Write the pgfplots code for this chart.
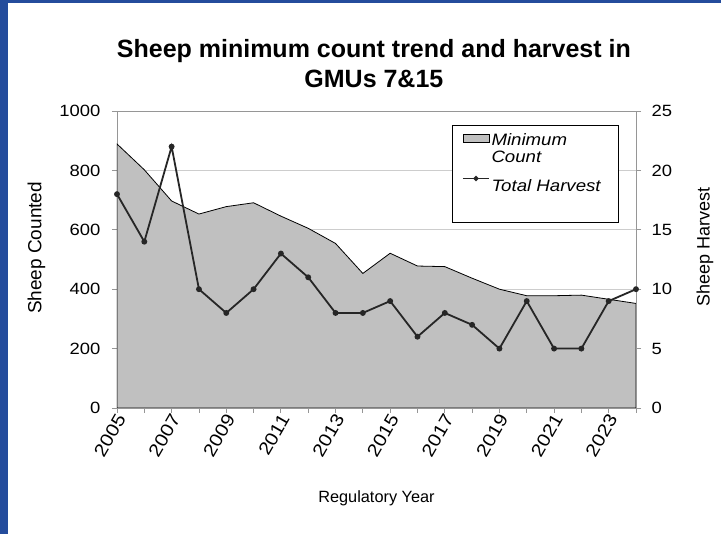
\documentclass[border=0pt]{standalone}
\usepackage{pgfplots}
\pgfplotsset{compat=1.18}
\usepackage{fontspec}
\setmainfont{Liberation Sans}
\newfontfamily\stretchfont{Liberation Sans}[FakeStretch=1.13]
\definecolor{areagray}{RGB}{192,192,192}
\definecolor{axgray}{RGB}{150,150,150}
\definecolor{gridgray}{RGB}{205,205,205}
\definecolor{frameblue}{RGB}{36,76,156}
\definecolor{linedark}{RGB}{38,38,38}
\newcommand{\rowstrut}{\rule[-7pt]{0pt}{23pt}}
\newcommand{\bigstrut}{\rule[-18pt]{0pt}{45pt}}
\begin{document}
\begin{tikzpicture}[x=1pt,y=1pt]
\useasboundingbox (0,0) rectangle (721,534);
\fill[white] (0,0) rectangle (721,534);
\fill[frameblue] (0,0) rectangle (8,534);
\fill[frameblue] (0,531) rectangle (721,534);
\begin{axis}[
  at={(117pt,126pt)}, anchor=south west,
  scale only axis, width=519pt, height=297pt,
  xmin=2005, xmax=2024, ymin=0, ymax=1000,
  xtick={2005,...,2024},
  xticklabels={2005,,2007,,2009,,2011,,2013,,2015,,2017,,2019,,2021,,2023,},
  ytick={0,200,...,1000},
  xtick pos=bottom, ytick pos=left,
  tick align=outside, major tick length=5pt,
  axis line style={axgray, line width=0.8pt},
  every tick/.style={axgray, line width=0.8pt},
  ymajorgrids, grid style={gridgray, line width=0.8pt},
  /pgf/number format/assume math mode=true,
  /pgf/number format/1000 sep={},
  tick label style={font=\stretchfont\fontsize{16.3}{19}\selectfont},
  xticklabel style={font=\stretchfont\fontsize{18}{21}\selectfont, rotate=60, anchor=east, xshift=3pt, yshift=-5pt},
  yticklabel style={xshift=-8pt},
  ylabel={Sheep Counted},
  ylabel style={font=\fontsize{19}{22}\selectfont, at={(axis description cs:-0.155,0.539)}, anchor=center},
  xlabel={Regulatory Year},
  xlabel style={font=\fontsize{16.3}{19}\selectfont, at={(axis description cs:0.5,-0.303)}, anchor=center},
  title={Sheep minimum count trend and harvest in\\GMUs 7\&15},
  title style={font=\fontsize{25}{30}\selectfont\bfseries, align=center, at={(axis description cs:0.495,1.140)}, anchor=center},
]
\addplot[fill=areagray, draw=black, line width=0.8pt] coordinates {
(2005,889) (2006,802) (2007,697) (2008,653) (2009,678) (2010,691)
(2011,646) (2012,605) (2013,554) (2014,453) (2015,521) (2016,478)
(2017,476) (2018,437) (2019,400) (2020,378) (2021,378) (2022,380)
(2023,366) (2024,352)} \closedcycle;
\end{axis}
\begin{axis}[
  at={(117pt,126pt)}, anchor=south west,
  scale only axis, width=519pt, height=297pt,
  xmin=2005, xmax=2024, ymin=0, ymax=25,
  axis x line=none, axis y line*=right,
  ytick={0,5,...,25},
  tick align=outside, major tick length=5pt,
  axis line style={axgray, line width=0.8pt, -},
  every tick/.style={axgray, line width=0.8pt},
  /pgf/number format/assume math mode=true,
  tick label style={font=\stretchfont\fontsize{16.3}{19}\selectfont},
  yticklabel style={xshift=7pt},
  ylabel={Sheep Harvest},
  ylabel style={font=\fontsize{18}{21}\selectfont, at={(axis description cs:1.133,0.543)}, anchor=center, rotate=0},
  legend style={at={(0.6455,0.953)}, anchor=north west, draw=black, line width=0.6pt,
    font=\stretchfont\fontsize{16.5}{19}\selectfont\itshape, inner xsep=10pt, inner ysep=4pt, row sep=0pt,
    nodes={inner sep=0pt, inner xsep=2pt}},
  legend cell align=left,
  legend image code/.code={\draw[#1] (0pt,0pt) -- (26pt,0pt);},
]
\addlegendimage{legend image code/.code={\draw[fill=areagray, draw=black, line width=0.6pt] (0pt,-4pt) rectangle (26pt,4pt);}}
\addlegendentry{\rowstrut Minimum}
\addlegendimage{legend image code/.code={}}
\addlegendentry{\rowstrut Count}
\addplot[linedark, line width=1.8pt, mark=*, mark size=2pt, mark options={fill=linedark},
  legend image code/.code={\draw[linedark, line width=1.2pt] (0pt,0pt) -- (26pt,0pt); \fill[linedark] (13pt,0pt) circle (1.6pt);}] coordinates {
(2005,18) (2006,14) (2007,22) (2008,10) (2009,8) (2010,10)
(2011,13) (2012,11) (2013,8) (2014,8) (2015,9) (2016,6)
(2017,8) (2018,7) (2019,5) (2020,9) (2021,5) (2022,5)
(2023,9) (2024,10)};
\addlegendentry{\bigstrut Total Harvest\hspace*{6pt}}
\addlegendimage{legend image code/.code={}}
\addlegendentry{\rule{0pt}{24pt}}
\end{axis}
\end{tikzpicture}
\end{document}
